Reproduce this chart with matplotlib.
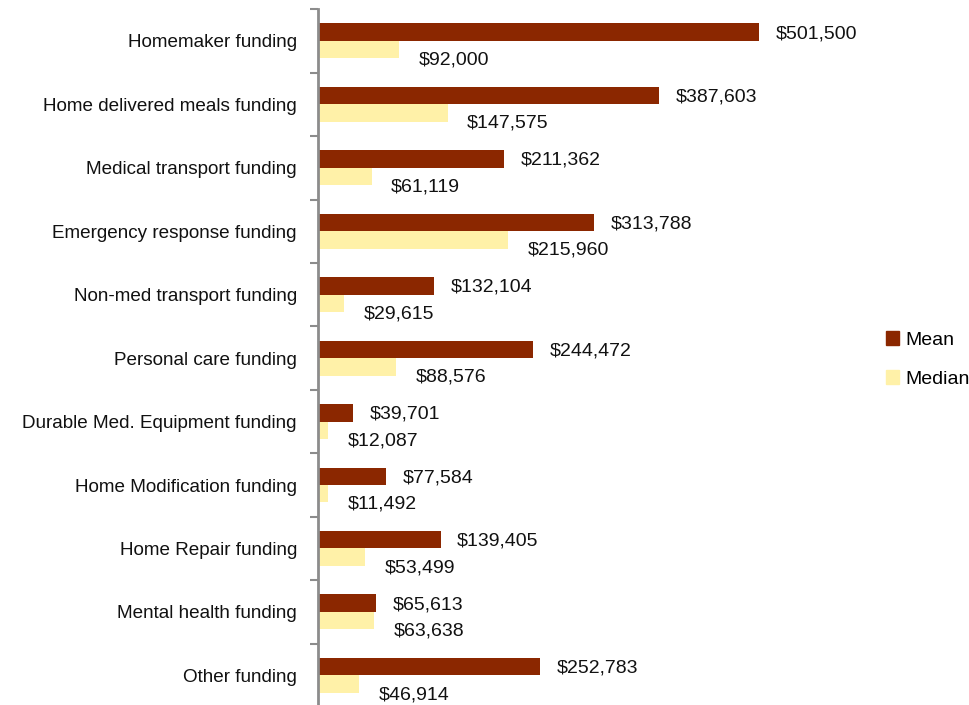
import matplotlib
matplotlib.use("Agg")
import matplotlib.pyplot as plt
import numpy as np
from matplotlib.patches import Patch

plt.rcParams['font.family'] = ['Liberation Sans Narrow', 'Liberation Sans', 'DejaVu Sans']

# Data (top to bottom as shown)
categories = [
    "Homemaker funding",
    "Home delivered meals funding",
    "Medical transport funding",
    "Emergency response funding",
    "Non-med transport funding",
    "Personal care funding",
    "Durable Med. Equipment funding",
    "Home Modification funding",
    "Home Repair funding",
    "Mental health funding",
    "Other funding",
]
mean_vals = [501500, 387603, 211362, 313788, 132104, 244472, 39701, 77584, 139405, 65613, 252783]
median_vals = [92000, 147575, 61119, 215960, 29615, 88576, 12087, 11492, 53499, 63638, 46914]

MEAN_COLOR = '#8B2700'
MEDIAN_COLOR = '#FFF1A8'
AXIS_COLOR = '#8C8C8C'

fig = plt.figure(figsize=(9.69, 7.05), dpi=100)
ax = fig.add_axes([0.328, -0.003, 0.545, 0.99])

n = len(categories)
y = np.arange(n)
bar_h = 0.275

ax.barh(y - bar_h / 2, mean_vals, height=bar_h, color=MEAN_COLOR, label='Mean')
ax.barh(y + bar_h / 2, median_vals, height=bar_h, color=MEDIAN_COLOR, label='Median')

for i in range(n):
    ax.annotate("${:,}".format(mean_vals[i]), (mean_vals[i], y[i] - bar_h / 2),
                xytext=(12, -1), textcoords='offset points',
                ha='left', va='center', fontsize=14, color='#111111')
    ax.annotate("${:,}".format(median_vals[i]), (median_vals[i], y[i] + bar_h / 2),
                xytext=(14, -7.5), textcoords='offset points',
                ha='left', va='center', fontsize=14, color='#111111')

ax.set_xlim(0, 600000)
ax.set_ylim(n - 0.5, -0.5)

# category labels in the middle, tick marks between categories
ax.set_yticks(np.arange(-0.5, n, 1.0))
ax.set_yticklabels([])
ax.set_yticks(y, minor=True)
ax.set_yticklabels(categories, minor=True, fontsize=13.6, color='#111111')
ax.tick_params(axis='y', which='minor', length=0, pad=15)
ax.tick_params(axis='y', which='major', length=6, width=1.5, color=AXIS_COLOR, direction='out')

ax.set_xticks([])
for side in ['top', 'right', 'bottom']:
    ax.spines[side].set_visible(False)
ax.spines['left'].set_color(AXIS_COLOR)
ax.spines['left'].set_linewidth(2)

handles = [Patch(color=MEAN_COLOR, label='Mean'), Patch(color=MEDIAN_COLOR, label='Median')]
fig.legend(handles=handles, loc='center left', bbox_to_anchor=(0.896, 0.49),
           frameon=False, fontsize=14, handlelength=0.7, handleheight=0.7,
           handletextpad=0.3, labelspacing=1.1)

fig.savefig("out.png", dpi=100)
